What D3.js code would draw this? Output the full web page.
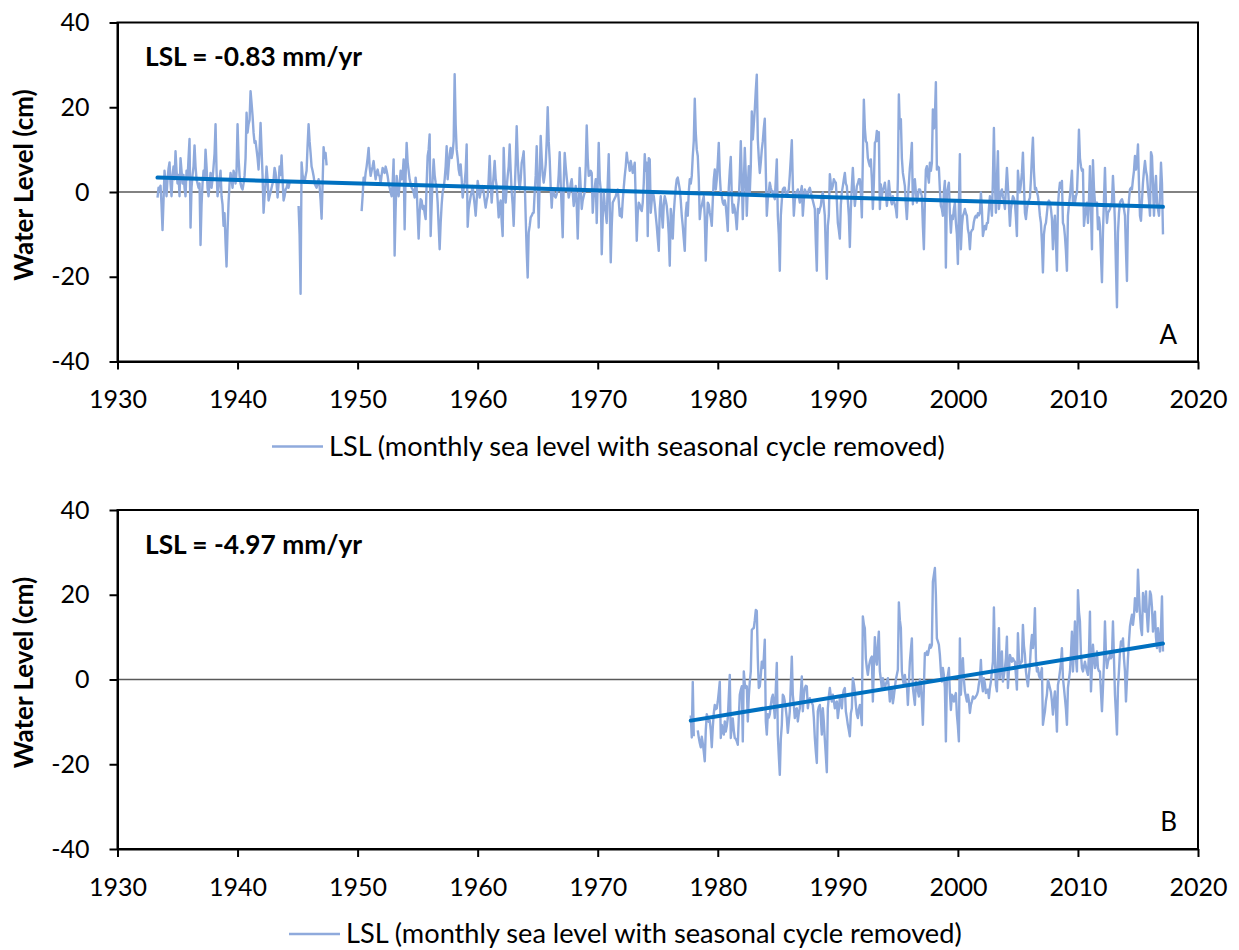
<!DOCTYPE html>
<html>
<head>
<meta charset="utf-8">
<script src="https://cdn.jsdelivr.net/npm/d3@7"></script>
<style>
  html, body { margin: 0; padding: 0; background: #fff; }
  svg { display: block; font-family: Lato, sans-serif; }
</style>
</head>
<body>
<svg id="chart" width="1239" height="950"></svg>
<script>
// tick labels
const xTicks = [1930, 1940, 1950, 1960, 1970, 1980, 1990, 2000, 2010, 2020]
const yTicks = [-40, -20, 0, 20, 40]

// panel A: monthly LSL (cm), starting May 1933, null = missing month
const startA = 1933 + 4 / 12
const lslA = [
  -1.3,1,0.5,1.5,-3,-9,-2,5,2,-1,3,5.5,
  7,2,-1,4,6,3,9.6,5,2,4,-1,8,
  5,2,4,1,-1,5,3,8,12.5,-8.4,1,4,
  6,11,6,3,2,1,2,-12.5,-3,2,5,3,
  10,6,1,-1,2,4.5,1,3,6,9,16,5,
  -1,1,3,5,-1,-3,-8,-5,-12,-17.6,-9,-2.5,
  2,4.5,3,1,5,4,2,5,16,8,4,2,
  1,0.6,2,3.8,8,18.7,14,16,17,23.8,21,18,
  14,11.6,12,10,8,5.3,10,16.3,10,3.8,-4.9,-1,
  2.2,6,3,-2,-1,0,1,2,3,5.7,4.5,2,
  -1.3,2,6,4,8.6,3,-2,-1,0.6,1,2,1,
  2.2,null,null,null,null,null,null,null,null,-3.3,-10,-24,
  7,4,3,2.2,3.8,5,11,16,12,9.2,6,5,
  3.8,2,1.5,1,2,3,1.4,-2,-6.3,2,10.6,8,
  9.2,6.3,null,null,null,null,null,null,null,null,null,null,
  null,null,null,null,null,null,null,null,null,null,null,null,
  null,null,null,null,null,null,null,null,null,null,null,null,
  -4.5,-1,3.4,2,4.5,6,8,10.4,6,3.8,5,6,
  7.3,5,3,4.5,5.3,4,3.8,2,4,5.7,5,4.5,
  6,5,3.8,2,1,0,-1,2,7.7,-15,-4,3.8,
  1,-1,2,5,3,4,7.7,-8.8,4,11.6,7,5,
  3,2,1,0.6,0,-1.3,3.4,1,-5,-11,-5,-1.7,
  -2,-4,-3.3,-5,-6.4,2,8.5,10,13.6,-10.4,-3,3,
  7.7,4,2.2,1,-2.5,-8,-13.5,-7.3,-3,0,1,3,
  6,10.8,3,6,9,10.4,8,9.2,12,27.8,16,10,
  8,5.3,4,6.5,3,-1.3,1,2.2,5,11.2,-8.2,-4,
  -2.5,-1,0,1.4,-1,-3,-5.6,-2,2.6,1,-1.3,0,
  1,1.4,0,-2,-3.7,-2,-1,3,8.5,2,-2.5,1,
  4,7.3,3,1.4,-2,-6,-3,-2,-7,-10.4,10.4,3,
  -2.5,1,3.8,6,11.2,5,0,-3,-8,0,6.9,15.5,
  8,3,0.6,3,6.9,8,9.6,3,-6,-14,-20.2,-9.6,
  -8,-6,-5.6,-5,-4.9,0,3.8,10.8,2,-8.4,3,13.2,
  8,4,2.2,4,6.5,12,20,12,7.7,1,-3.7,0.6,
  0,-1,-1.3,-0.5,0.6,4,9.4,2,-4,-10.7,2,9.2,
  6,3.4,1,-1.3,0,2,3,0,-3.3,-1,1.4,-3,
  -11,-2,5.7,1,-4,-2,-1,0,6,15.7,8,3.8,
  4,5,4.5,-4.9,-1,1,3,-7.3,2,11.6,3,0.6,
  -14.7,-6,-0.1,-3,-5,-7.3,2,8.9,-3,-16.6,-8,-2.5,
  -2,-1.5,-1,0,0.6,-2,-5.6,-4,-6,-2,1,3.8,
  6,9.3,7,6.9,5,7.3,6,4.5,5.5,6.9,-2,-11.5,
  -5,-2.5,-3,-4,-4.5,-2.5,2,8.9,5,6.9,-10.4,8,
  7.7,-4.9,-2,0,-1,-3,-5.6,-8,-11,-13.9,-4,-1,
  -4.9,-8.4,-3,-1,-2,-3.3,-6,-10,-17.4,-4,-7,-11,
  -5,-1.7,1,3,3.4,2,0.6,-2,-5.6,-8,-11,-13.9,
  -5,-2.5,-5.6,0,3,2,3.8,8.5,12,22,14,10,
  8.5,3,-6.4,-4,-3.3,-2,-1,-6,-16.2,-8,-2.5,-3,
  -4.9,-6,-8,-2,3,5.3,0.6,3,7,11.6,4,-0.1,
  -1,-2.5,-3,-2,-3.3,-6,-9.2,1,5,8.3,-1,-4.9,
  -3,-4,-6,-8.8,-4,-1.7,4,12,3,-6.4,2,10.4,
  4,-5.6,1,6.1,-0.1,6,19,12.4,16,19.5,24,27.7,
  12.4,8,4.5,7,10,12,15,17.3,5,-5.6,-1.7,0,
  2.2,1,0,0.2,-1,-1.7,3,7.7,-5.6,-10,-18.6,-5.6,
  -2,0.6,1,1,-0.5,-1,0,0.6,4,8,12.2,2,
  -5.6,-2,-0.1,0,0.6,-1,-2.5,0,1.4,-5.6,-2,0.6,
  0,-1,-0.5,0.5,1,0,-1.3,-2,-3,-4,-12,-18.6,
  -4,-5,-4,-3.3,-1,-0.1,-3,-5.6,-14,-20.5,-8,-5.6,
  4.2,2,0.6,1.5,3,2.5,2.2,-2,-7.3,-9,-11,-3,
  -0.1,1.4,3,4.5,2,1.4,-2,-5.6,-13,-4,1.4,5.7,
  1,-3.3,-1,1.4,2,3,3,0,-6,8,21.8,15,
  12,11.6,8,6.9,6.1,7.7,3,-4,2,11.6,12,14.4,
  12,14.1,-4,1.8,-1,0.6,1,2.2,0,-3.3,-1,2.6,
  0,-2,-2.9,-1,-2.1,-3,-4,-6,3,23,15,17.2,
  8,4.5,3,1.4,-3,-6.4,-1.7,2,5.7,8,11.6,-2.9,
  1,3,0,-2.5,-1,0.6,0.6,-0.1,-1,-8,-13.5,-2.5,
  5.3,6.1,4,2.2,6.9,5,6.9,19.5,15,17.6,25.9,5.3,
  6,5.7,0.6,-3.3,-4,-5.6,0,2.6,-17.8,-0.1,1,2.2,
  -5,-9.6,-5.6,-6.4,-4,-2.5,-7.3,-10,-17,-3,8.9,-13.5,
  -8,-5.6,-5,-4,-5,-5.6,-8.8,-10,-13.5,-9.6,-9,-8.8,
  -7,-6,-5.6,-6,-5,-5.5,-4.9,-0.1,-4,-10.4,-9,-8,
  -8.8,-7.3,-7.3,-4,-1,-3,-5.6,3,15.1,2,-4.9,3,
  9.6,-4,-2,0,0.6,-1,-2,-4,1,5.7,1.4,-3,
  -8,-4,-2.5,-1,-1.5,-2.5,-6,-10.4,5,2,-0.1,2,
  4.5,9.3,2,-4.9,-6.4,-4,-2.5,-2,-1.3,3,8.5,12.8,
  5,0.6,1,0,-1,-3,-5.6,-7.3,-12,-19,-10,-8,
  -7.3,-5,-2.5,-2,-2.5,-4,-6.4,-13.5,-8,-5.6,-12,-18.6,
  -3.3,0,2.2,1,2.6,-7.3,-8,-10.4,-14,-18.6,-5.6,-3,
  -1,2,5,-2.5,-1,-2.5,-1,-0.1,6,14.7,8,6.1,
  5,5.3,-8,-5.6,-4,-2.5,-7.3,-2,6.1,-4,-13.5,7.5,
  1,-2.5,-3,-2.5,-8.8,-6,-8,-15,-21.3,-9.6,-2,5.7,
  -3,-7.3,-4.9,-4.5,-4,-3,-2.5,3.8,-1,-7.3,-18,-27.2,
  -9.6,-5,-2.5,-2,-1.7,-2.5,-4,-5.6,-14,-21,-5.6,-2,
  0.6,1,0.6,3,5,8.5,5.3,7,11.2,2,-5.6,-6.8,
  -2,2.2,5,7.3,5,3.8,0.6,-2,-5.6,9.4,8.5,2,
  -5.6,0,3.8,-2.5,-4,-5.6,-1,6.9,2,-10
]
const trendYearsA = [1933.33, 2017.08]
const trendA = [3.4, -3.5]

// panel B: monthly LSL (cm), starting Oct 1977
const startB = 1977 + 9 / 12
const lslB = [
  -8.5,-13.7,-0.6,-13.4,null,null,null,-12,-13.7,-15,-16,-13.5,
  -15,-17,-19.3,-12,-8.2,-9,-10,-9.7,-12,-16,-11.3,-8,
  -6,-7,-6.8,-5.2,-3,-0.5,-13.8,-10.7,-12,-13,-9.9,-12.3,
  -11,-9.2,-4,1.1,-13.8,-11,-9.2,-12,-13.8,-14,-14.6,-15.4,
  -9,-3.6,-2.5,-1.6,-14.6,1.9,-1,-2,-1.6,-9.9,-4,-0.5,
  1.9,11.7,12,12.1,14,16.4,16.2,5,-2,-1.6,1,4.2,
  2.7,5,9.4,-9.9,-13,-8.2,-9,-8.2,-6,-4.4,-3.6,-6,
  -9.1,-2,3.9,-13,-18,-22.5,-14,-10.7,-3.6,-4,-5.2,-7,
  -9.1,-12.6,-10,-7.5,-1,5.4,-3.6,-6,-9.1,-7,-6.8,-9.9,
  -8,-6.8,-3,0.7,-7.5,-4,-2,-1.5,-1.6,-6.8,-5,-4.4,
  -5.2,-5.5,-6,-9,-13.8,-17,-19.7,-7.5,-6.5,-6,-9,-13,
  -6.8,-10,-14.2,-18,-21.9,-6.8,-4,-2,-4,-5.2,-3.6,-5,
  -6.8,-5.5,-5.2,-9.1,-7,-4.4,-5,-6.8,-3.6,-2.5,-2,-7.5,
  -9,-10.7,-12,-13.4,-8,-6.8,0.3,-1,-2.8,-6,-8.2,-9.1,
  -7,-6,-8,-10.8,14.9,13,12.1,5,2.7,1.1,3,4.2,
  5,5.4,-5.2,3,10,5,3.5,8,11.3,1.9,0,-2,
  0.3,-1,-2,-1,-0.5,0.3,-2,-5.2,-3,-2,-5.6,-4,
  -2,0,1.1,2.3,18.2,14,12.1,1.9,0,-1.3,1.1,-1.3,
  -1,-6,-1,4.2,7,9.7,-2,-4,-6,-0.5,-1,-2.8,
  -4,0,-1.3,-5,-10.7,-2,6.2,5.8,6.6,5.8,7,8.2,
  7.5,8.2,23.1,24.7,26.3,20,9.7,9,8.2,5.8,2,-0.5,
  2.7,1,-2,-14.6,0.3,1,2.7,-3,-7.2,-3.6,-4,-5.2,
  -4,-3.2,-8.3,-11,-14.6,9.7,-3.6,2,5,0,-2.8,-4,
  -5.2,-3.6,-5,-7.9,-6,-5.2,-4,-4.5,-4.4,-4,-3.6,-2.8,
  -1,0.3,4.6,-1,-2.8,0.3,-1,-3.2,-2.5,-2.4,-4.4,-2,
  -0.5,2,4.2,17,5,-1.3,-2.8,5,12.1,0.3,3,6.6,
  -0.5,1,2.7,5,10.1,-2,2,5.8,5,4.2,5,4.5,
  4.2,1,-2.4,10.9,5,3.5,4,4.2,12.9,8,5.8,1.9,
  0,-1.6,1,3.5,8,10.5,7.4,10,16.8,5,1.9,2.7,
  1,0.3,1.5,2.7,-10.7,-9,-7.5,-5,-3.6,-0.1,-1,-2,
  -3,-5.2,-8.3,-5,-2.8,-7,-12.3,-1.3,0,1.9,4,7.4,
  0.3,-2,-4.4,-7,-10.7,-2,0,1.9,6,11.3,1.9,7,
  13.7,5,1.9,21.1,16,13.7,6,2.7,1.9,3,4.2,3,
  1.9,1.1,6,16,-2.8,3,8.2,5,2.7,4,6.6,2.7,
  2,1.9,-3,-7.5,-2,4,13.7,6,2.7,4.2,5,5.8,
  5,5.5,13.7,5,-3.6,-8,-13,-2,2,6.6,9,8,
  9.7,5,1.9,-5.2,0,5,9,12.5,14,15.3,12.9,15,
  19.2,17,16,25.9,20,15.3,12,10.5,20.4,18,16,20.8,
  15,11.3,16,20.8,20,17,11.3,14,16,10,7.4,12.1,
  9,6.6,12,19.6,6.6
]
const trendYearsB = [1977.75, 2017.08]
const trendB = [-9.7, 8.5]

const rateLabels = ['LSL = -0.83 mm/yr', 'LSL = -4.97 mm/yr']
const panelLetters = ['A', 'B']
const legendText = 'LSL (monthly sea level with seasonal cycle removed)'

const svg = d3.select('#chart')
const left = 117.5, right = 1198

function drawPanel(p) {
  const x = d3.scaleLinear().domain([1930, 2020]).range([left, right])
  const y = d3.scaleLinear().domain([-40, 40]).range([p.bottom, p.top])
  const g = svg.append('g')

  // zero line
  g.append('line')
    .attr('x1', left).attr('x2', right)
    .attr('y1', y(0)).attr('y2', y(0))
    .attr('stroke', '#595959').attr('stroke-width', 1.5)

  const pts = p.values.map((v, i) => ({ year: p.start + i / 12, v: v }))
  const line = d3.line()
    .defined(d => d.v !== null)
    .x(d => x(d.year))
    .y(d => y(d.v))

  g.append('path')
    .datum(pts)
    .attr('fill', 'none')
    .attr('stroke', '#8faadc')
    .attr('stroke-width', 2.4)
    .attr('stroke-linejoin', 'round')
    .attr('d', line)

  // linear trend
  const trend = p.trendYears.map((yr, i) => ({ year: yr, v: p.trend[i] }))
  g.append('path')
    .datum(trend)
    .attr('fill', 'none')
    .attr('stroke', '#0070c0')
    .attr('stroke-width', 4)
    .attr('stroke-linecap', 'round')
    .attr('d', line)

  // frame
  g.append('rect')
    .attr('x', left).attr('y', p.top)
    .attr('width', right - left).attr('height', p.bottom - p.top)
    .attr('fill', 'none').attr('stroke', '#000').attr('stroke-width', 2)

  // plain hyphen for negatives, like the original
  const fmt = d => String(d)

  const yAxis = g.append('g')
    .attr('transform', 'translate(' + left + ',0)')
    .call(d3.axisLeft(y).tickValues(yTicks).tickFormat(fmt).tickSize(8).tickSizeOuter(0).tickPadding(20))
  yAxis.selectAll('text').attr('font-size', 25).attr('fill', '#000')

  const xAxis = g.append('g')
    .attr('transform', 'translate(0,' + p.bottom + ')')
    .call(d3.axisBottom(x).tickValues(xTicks).tickFormat(fmt).tickSize(8).tickSizeOuter(0))
  xAxis.selectAll('text').attr('font-size', 25).attr('fill', '#000').attr('y', 46.5).attr('dy', 0)

  g.selectAll('.domain, .tick line').attr('stroke', '#000').attr('stroke-width', 2)
  g.selectAll('.tick text').attr('font-family', 'Lato, sans-serif')

  g.append('text')
    .attr('transform', 'translate(33,' + ((p.top + p.bottom) / 2 - 7) + ') rotate(-90)')
    .attr('text-anchor', 'middle')
    .attr('font-size', 26).attr('font-weight', 'bold')
    .text('Water Level (cm)')

  g.append('text')
    .attr('x', 145).attr('y', p.top + 43.5)
    .attr('font-size', 26.3).attr('font-weight', 'bold')
    .text(p.rate)

  g.append('text')
    .attr('x', 1177).attr('y', p.bottom - 18)
    .attr('text-anchor', 'end')
    .attr('font-size', 26)
    .text(p.letter)

  // legend
  g.append('line')
    .attr('x1', p.legendX).attr('x2', p.legendX + 51)
    .attr('y1', p.bottom + 85).attr('y2', p.bottom + 85)
    .attr('stroke', '#8faadc').attr('stroke-width', 2.4)
  g.append('text')
    .attr('x', p.legendX + 57).attr('y', p.bottom + 94)
    .attr('font-size', 27.2)
    .text(legendText)
}

drawPanel({ top: 22.5, bottom: 361.5, start: startA, values: lslA,
  trendYears: trendYearsA, trend: trendA, rate: rateLabels[0], letter: panelLetters[0], legendX: 272 })
drawPanel({ top: 510, bottom: 849, start: startB, values: lslB,
  trendYears: trendYearsB, trend: trendB, rate: rateLabels[1], letter: panelLetters[1], legendX: 289 })
</script>
</body>
</html>
